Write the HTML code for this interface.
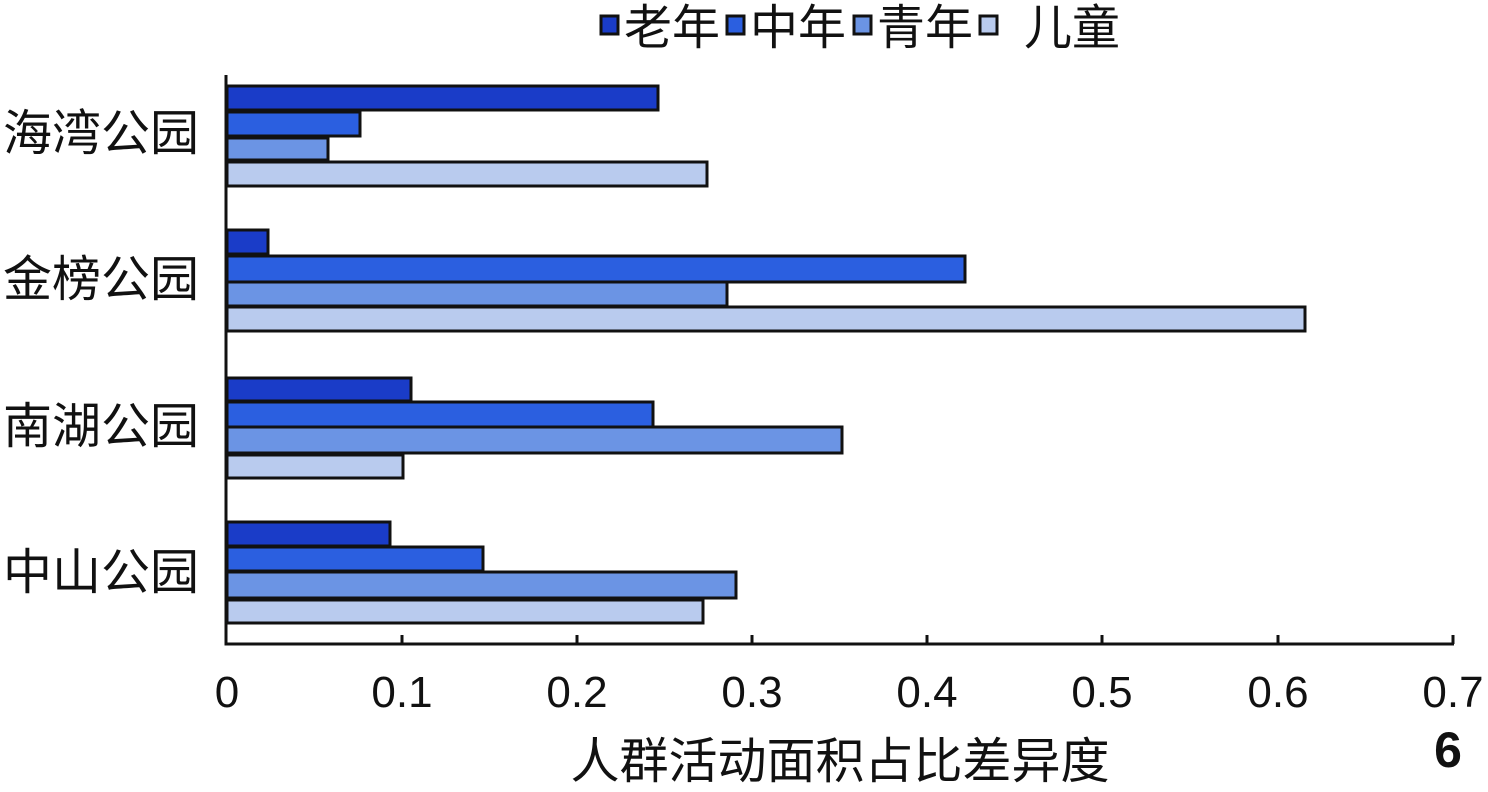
<!DOCTYPE html>
<html><head><meta charset="utf-8"><style>
html,body{margin:0;padding:0;background:#fff;}
svg text{font-family:"Liberation Sans","Noto Sans CJK SC",sans-serif;fill:#111;}
</style></head><body>
<svg width="1488" height="787" viewBox="0 0 1488 787" xmlns="http://www.w3.org/2000/svg">
<g stroke="#111" stroke-width="3">
<rect x="227" y="86" width="431" height="24" fill="#1a3cc8"/>
<rect x="227" y="112" width="133" height="24" fill="#2b5fe0"/>
<rect x="227" y="138" width="101" height="22" fill="#6b94e4"/>
<rect x="227" y="162" width="480" height="24" fill="#b9cbee"/>
<rect x="227" y="230" width="41" height="24" fill="#1a3cc8"/>
<rect x="227" y="256" width="738" height="26" fill="#2b5fe0"/>
<rect x="227" y="282" width="500" height="24" fill="#6b94e4"/>
<rect x="227" y="307" width="1078" height="24" fill="#b9cbee"/>
<rect x="227" y="378" width="184" height="23" fill="#1a3cc8"/>
<rect x="227" y="402" width="426" height="25" fill="#2b5fe0"/>
<rect x="227" y="427" width="615" height="26" fill="#6b94e4"/>
<rect x="227" y="455" width="176" height="23" fill="#b9cbee"/>
<rect x="227" y="522" width="163" height="24" fill="#1a3cc8"/>
<rect x="227" y="547" width="256" height="24" fill="#2b5fe0"/>
<rect x="227" y="572" width="509" height="26" fill="#6b94e4"/>
<rect x="227" y="600" width="476" height="23" fill="#b9cbee"/>
</g>
<g stroke="#111" stroke-width="3" fill="none">
<path d="M226 75 V644 H1454"/>
<path d="M402 644 v-9 M577 644 v-9 M752 644 v-9 M927 644 v-9 M1102 644 v-9 M1278 644 v-9 M1453 644 v-9"/>
</g>
<g font-size="44" text-anchor="middle">
<text x="227" y="707">0</text>
<text x="402" y="707">0.1</text>
<text x="577" y="707">0.2</text>
<text x="752" y="707">0.3</text>
<text x="927" y="707">0.4</text>
<text x="1102" y="707">0.5</text>
<text x="1278" y="707">0.6</text>
<text x="1453" y="707">0.7</text>
</g>
<g font-size="49">
<text x="3" y="150">海湾公园</text>
<text x="3" y="296">金榜公园</text>
<text x="3" y="443">南湖公园</text>
<text x="3" y="589">中山公园</text>
</g>
<text x="840" y="778" font-size="49" text-anchor="middle">人群活动面积占比差异度</text>
<text x="1448" y="767" font-size="50" font-weight="bold" text-anchor="middle">6</text>
<g stroke="#111" stroke-width="3">
<rect x="601" y="16" width="17" height="18" fill="#1a3cc8"/>
<rect x="727" y="16" width="17" height="18" fill="#2b5fe0"/>
<rect x="854" y="16" width="17" height="18" fill="#6b94e4"/>
<rect x="980" y="16" width="17" height="18" fill="#b9cbee"/>
</g>
<g font-size="48">
<text x="624" y="44">老年</text>
<text x="750" y="44">中年</text>
<text x="877" y="44">青年</text>
<text x="1024" y="44">儿童</text>
</g>
</svg>
</body></html>
